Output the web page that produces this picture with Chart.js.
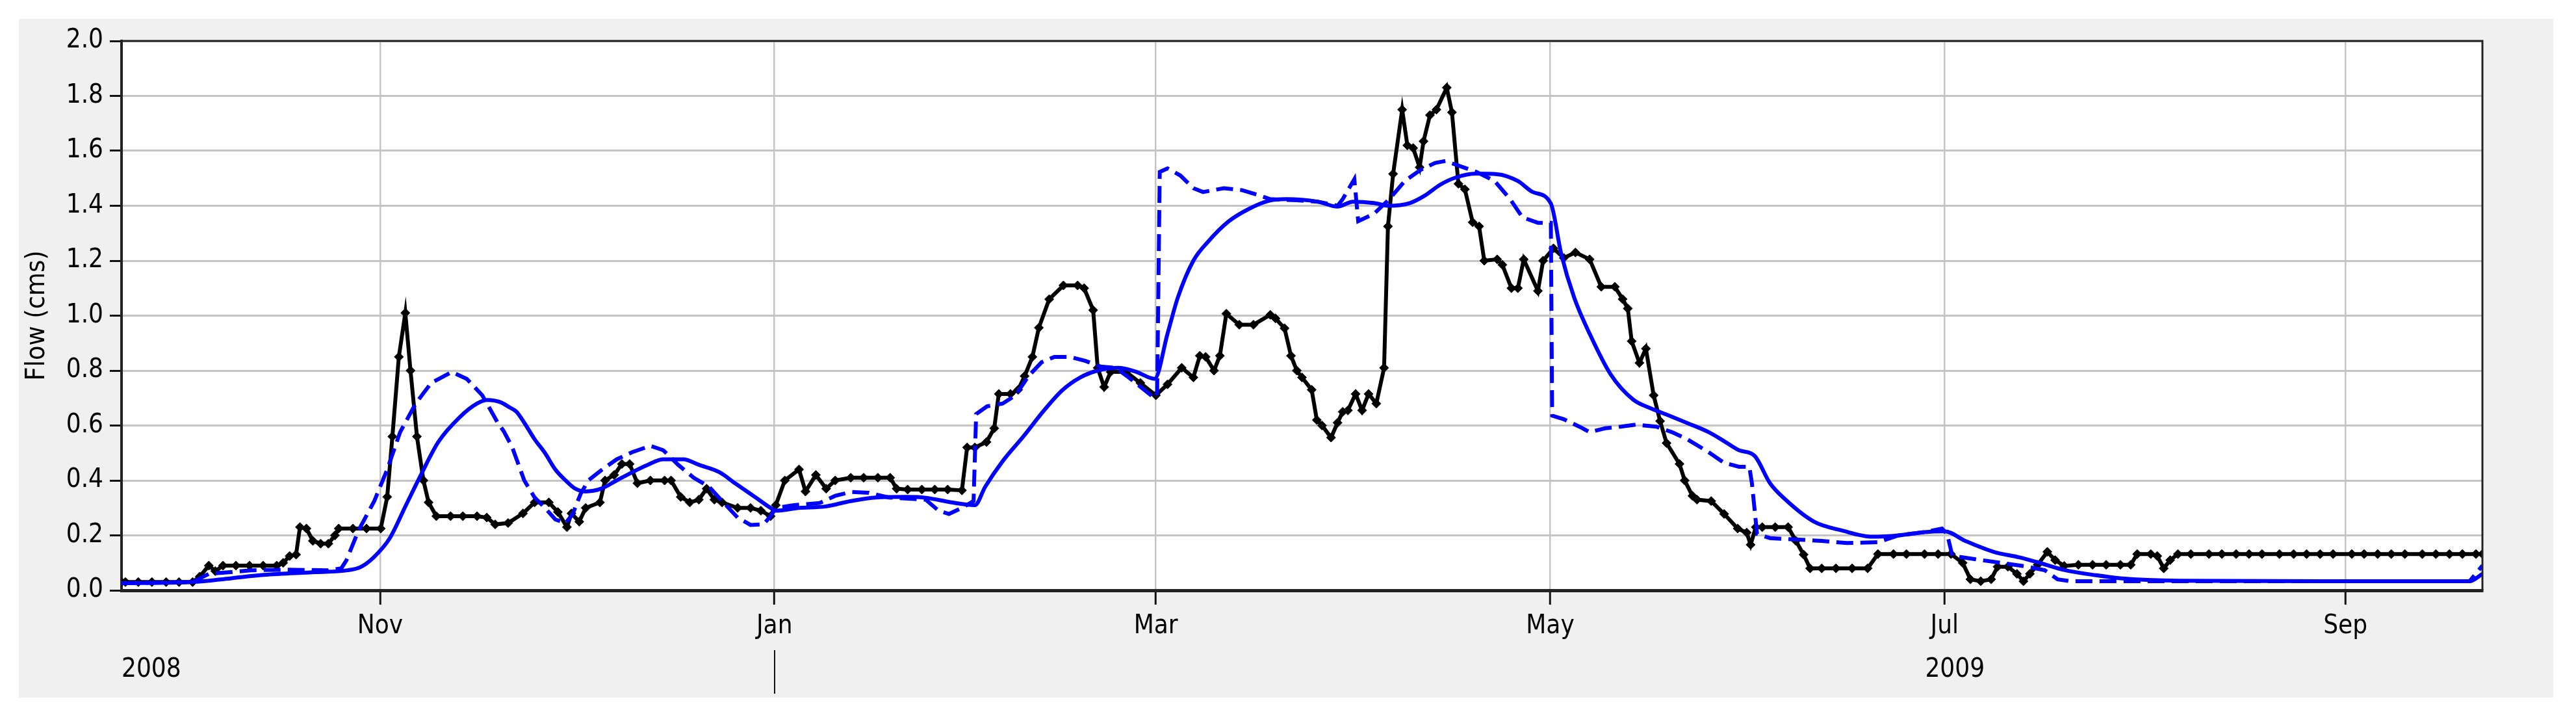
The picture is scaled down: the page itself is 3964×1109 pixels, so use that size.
<!DOCTYPE html>
<html lang="en">
  <head>
    <meta charset="UTF-8" />
    <title>Flow (cms)</title>
    <style>
      html,
      body {
        margin: 0;
        padding: 0;
        background: #fff;
      }
      #panel {
        position: absolute;
        left: 29px;
        top: 29px;
        width: 3900px;
        height: 1044px;
        background: #f0f0f0;
      }
      canvas {
        display: block;
      }
    </style>
  </head>
  <body>
    <div id="panel"><canvas id="flowChart" width="3900" height="1044"></canvas></div>

    <script src="https://cdn.jsdelivr.net/npm/chart.js"></script>
    <script>
      // x values are days after 2008-09-22 (left edge of the time axis)
      const obsDays = [
        0, 0.6, 2.6, 4.7, 6.9, 8.9, 11, 12.1, 13.5, 14.5, 15.7, 17.7, 19.8, 21.9, 24, 25, 26, 27, 27.6, 28.6, 29.6,
        30.8, 32, 33, 33.6, 35.8, 37.9, 40.1, 41.1, 41.9, 42.9, 43.9, 44.7, 45.7, 46.7, 47.5, 48.7, 50.9, 52.8, 55,
        56.5, 57.8, 59.8, 62.1, 63.9, 66.1, 67.5, 68.9, 69.6, 70.8, 71.8, 74, 74.8, 76.2, 77.4, 78.6, 79.8, 81.8, 84,
        85, 86.5, 87.9, 89.3, 90.5, 91.7, 92.9, 95.3, 97.3, 98.9, 100.4, 101.2, 102.6, 104.8, 105.8, 107.4, 109,
        110.4, 112.8, 114.8, 117, 118.9, 119.9, 121.6, 123.8, 125.8, 127.8, 130, 130.8, 132, 133.8, 135, 135.7,
        137.5, 138.7, 139.7, 140.9, 141.9, 143.5, 145.7, 147.9, 148.9, 150.3, 151, 152, 153, 155.4, 157.6, 160,
        161.8, 164, 165.8, 166.8, 167.7, 169, 169.9, 170.9, 172.9, 175.1, 177.7, 178.5, 179.9, 180.9, 181.8, 182.6,
        184.1, 184.9, 185.7, 187.1, 188.1, 188.9, 189.7, 190.9, 191.9, 192.9, 194.1, 195.3, 195.9, 196.7, 198.1,
        198.9, 199.8, 200.8, 201.4, 202.4, 203.4, 205, 205.8, 206.8, 207.8, 209, 210, 210.8, 212.8, 213.6, 215, 216,
        216.9, 219.1, 219.9, 221.5, 223.1, 224.9, 227.1, 228.9, 231, 232.2, 233, 233.6, 234.8, 235.8, 237, 238, 239,
        241, 241.8, 243, 243.7, 245.9, 247.9, 250, 251.4, 252, 252.8, 253.8, 255.8, 257.8, 259, 260.2, 261.2, 263,
        265.2, 267.7, 270.1, 271.7, 274.1, 276.1, 278.9, 281, 283, 284.8, 286, 287.6, 289.2, 290.2, 291.8, 293.2,
        294.2, 295.2, 296.4, 297.9, 299.1, 300.5, 302.7, 304.9, 307, 309.2, 310.8, 311.8, 313.9, 314.9, 315.9,
        316.9, 318.1, 320.1, 322.9, 324.9, 327.1, 329.1, 331.1, 333.8, 336, 338, 340.1, 342.1, 345, 346.9, 349,
        351.1, 353.2, 355.9, 358, 360.1, 362.1, 364.2, 365.2,
      ];
      const obsFlow = [
        0.03, 0.03, 0.03, 0.03, 0.03, 0.03, 0.03, 0.05, 0.09, 0.07, 0.09, 0.09, 0.09, 0.09, 0.09, 0.1, 0.125, 0.13,
        0.23, 0.225, 0.18, 0.17, 0.17, 0.2, 0.225, 0.225, 0.225, 0.225, 0.34, 0.56, 0.85, 1.01, 0.8, 0.56, 0.4, 0.32,
        0.27, 0.27, 0.27, 0.27, 0.265, 0.24, 0.245, 0.28, 0.32, 0.32, 0.285, 0.23, 0.28, 0.25, 0.3, 0.32, 0.4, 0.42,
        0.46, 0.46, 0.39, 0.4, 0.4, 0.4, 0.34, 0.32, 0.33, 0.37, 0.33, 0.32, 0.3, 0.3, 0.29, 0.27, 0.31, 0.4, 0.44,
        0.36, 0.42, 0.37, 0.4, 0.41, 0.41, 0.41, 0.41, 0.37, 0.367, 0.367, 0.367, 0.367, 0.364, 0.52, 0.52, 0.54,
        0.59, 0.715, 0.715, 0.73, 0.78, 0.85, 0.956, 1.06, 1.11, 1.11, 1.1, 1.02, 0.81, 0.74, 0.795, 0.795, 0.755,
        0.71, 0.75, 0.81, 0.775, 0.854, 0.85, 0.8, 0.854, 1.007, 0.967, 0.967, 1.003, 0.99, 0.954, 0.854, 0.8, 0.775,
        0.73, 0.62, 0.6, 0.556, 0.61, 0.65, 0.655, 0.715, 0.655, 0.715, 0.68, 0.81, 1.325, 1.516, 1.75, 1.62, 1.61,
        1.54, 1.635, 1.73, 1.75, 1.83, 1.74, 1.48, 1.46, 1.34, 1.325, 1.2, 1.205, 1.185, 1.1, 1.1, 1.205, 1.09, 1.2,
        1.245, 1.21, 1.23, 1.205, 1.105, 1.105, 1.06, 1.026, 0.907, 0.828, 0.88, 0.71, 0.616, 0.536, 0.46, 0.4, 0.344,
        0.33, 0.325, 0.278, 0.225, 0.21, 0.166, 0.23, 0.23, 0.23, 0.23, 0.18, 0.13, 0.08, 0.08, 0.08, 0.08, 0.08,
        0.132, 0.132, 0.132, 0.132, 0.132, 0.132, 0.1, 0.04, 0.033, 0.04, 0.086, 0.086, 0.06, 0.033, 0.06, 0.093,
        0.14, 0.11, 0.089, 0.093, 0.093, 0.093, 0.093, 0.093, 0.132, 0.132, 0.125, 0.08, 0.11, 0.132, 0.132, 0.132,
        0.132, 0.132, 0.132, 0.132, 0.132, 0.132, 0.132, 0.132, 0.132, 0.132, 0.132, 0.132, 0.132, 0.132, 0.132,
        0.132, 0.132, 0.132, 0.132, 0.132, 0.132, 0.132,
      ];

      const solidDays = [
        0, 11, 17, 22, 30, 35, 37, 39, 41.5, 44, 46.3, 49, 52.3, 55, 56.6, 58.6, 60.1, 61.1, 62.3, 63.9, 65.5, 67.1,
        68.7, 70.2, 71.8, 74.2, 76.6, 79, 81.4, 83.8, 86.9, 89.3, 92.5, 94.9, 98.1, 100.4, 101.2, 104.8, 108.8,
        112.8, 116.7, 121.4, 124.4, 128.4, 132, 133.6, 136.3, 139.5, 142.7, 145.5, 148.3, 151, 154.2, 157, 159.8,
        161.8, 163.4, 165.8, 168.1, 171.3, 174.5, 177.3, 180.1, 185, 188.1, 190.5, 193.7, 196.1, 199.3, 201.6, 204,
        206.4, 209.6, 212.8, 216, 218.3, 221.1, 222.7, 224.7, 227.1, 230.3, 233.8, 236.6, 239.4, 242.2, 245.5,
        247.9, 250.2, 252.6, 255, 257.4, 261.8, 266.1, 270.9, 274.9, 278.9, 282, 285.2, 289.6, 293.6, 296.7, 300.7,
        305.4, 309.2, 318.3, 340, 363.2, 365.2,
      ];
      const solidFlow = [
        0.026, 0.03, 0.044, 0.056, 0.066, 0.073, 0.085, 0.12, 0.19, 0.31, 0.42, 0.54, 0.63, 0.68, 0.693, 0.685,
        0.665, 0.65, 0.61, 0.55, 0.5, 0.44, 0.4, 0.37, 0.36, 0.37, 0.4, 0.43, 0.457, 0.477, 0.477, 0.457, 0.43, 0.39,
        0.338, 0.3, 0.29, 0.3, 0.305, 0.325, 0.338, 0.34, 0.337, 0.32, 0.31, 0.377, 0.47, 0.56, 0.655, 0.728, 0.775,
        0.8, 0.81, 0.795, 0.77, 0.934, 1.066, 1.2, 1.27, 1.344, 1.39, 1.417, 1.424, 1.415, 1.397, 1.415, 1.41, 1.4,
        1.41, 1.437, 1.477, 1.503, 1.517, 1.515, 1.49, 1.45, 1.408, 1.225, 1.066, 0.934, 0.788, 0.695, 0.662, 0.636,
        0.609, 0.576, 0.543, 0.51, 0.49, 0.39, 0.33, 0.25, 0.218, 0.195, 0.2, 0.212, 0.215, 0.18, 0.14, 0.12, 0.1,
        0.073, 0.055, 0.044, 0.035, 0.033, 0.033, 0.06,
      ];

      const dashDays = [
        0, 11, 13.5, 16.9, 20, 25.6, 32, 34, 34.8, 36.7, 39.1, 41.1, 43.1, 45.5, 47.9, 51.1, 53.4, 55.8, 58.2, 59.1,
        60.4, 62.3, 63.9, 65.5, 67.1, 68.7, 69.8, 71, 72.2, 74.2, 76.6, 79, 81.8, 83.8, 86.1, 88.5, 90.9, 92.9, 95.3,
        97.3, 99.3, 100.4, 101.2, 104, 108, 110.4, 112.8, 115.6, 118.7, 124.4, 126.4, 128, 130, 131.8, 132.2, 133.9,
        136.3, 138.3, 140.3, 142.3, 144.3, 146.7, 149.1, 151.4, 153.8, 155.8, 158.2, 159.8, 160.2, 160.6, 161.8,
        163.8, 165.8, 167.3, 170.5, 173.3, 176.1, 177.7, 181.8, 185, 188.1, 188.9, 190.7, 191.3, 193.7, 196.1, 198.5,
        200.9, 203.2, 204.8, 207.2, 209.6, 212.4, 214.8, 216.7, 219.1, 221.1, 221.3, 223.1, 225.5, 227.1, 229.5,
        231.9, 234.2, 237.4, 239.8, 242.2, 245.5, 247.9, 250.2, 251.8, 252.2, 253, 255, 259, 263, 266.9, 271.7,
        274.9, 278.9, 281.6, 282.4, 283.2, 286.8, 290.8, 294.8, 297.5, 299.5, 301.5, 363.2, 365.2,
      ];
      const dashFlow = [
        0.026, 0.03, 0.06, 0.066, 0.073, 0.075, 0.073, 0.08, 0.11, 0.22, 0.325, 0.44, 0.576, 0.68, 0.755, 0.795,
        0.77, 0.71, 0.61, 0.58, 0.523, 0.4, 0.338, 0.3, 0.258, 0.245, 0.278, 0.35, 0.4, 0.437, 0.477, 0.503, 0.526,
        0.51, 0.457, 0.41, 0.377, 0.325, 0.265, 0.238, 0.24, 0.27, 0.3, 0.31, 0.318, 0.344, 0.358, 0.355, 0.338,
        0.33, 0.29, 0.278, 0.3, 0.325, 0.642, 0.67, 0.68, 0.71, 0.78, 0.83, 0.85, 0.85, 0.835, 0.815, 0.81, 0.775,
        0.73, 0.7, 0.72, 1.523, 1.536, 1.51, 1.464, 1.45, 1.464, 1.457, 1.437, 1.424, 1.42, 1.415, 1.4, 1.424, 1.497,
        1.344, 1.37, 1.424, 1.49, 1.53, 1.556, 1.563, 1.543, 1.523, 1.49, 1.424, 1.358, 1.338, 1.338, 0.636, 0.623,
        0.596, 0.576, 0.59, 0.596, 0.603, 0.596, 0.576, 0.55, 0.503, 0.464, 0.45, 0.45, 0.39, 0.205, 0.19, 0.185,
        0.18, 0.172, 0.175, 0.2, 0.212, 0.225, 0.205, 0.126, 0.113, 0.1, 0.086, 0.073, 0.04, 0.033, 0.033, 0.09,
      ];

      const monthTickDays = [40, 101, 160, 221, 282, 344];
      const monthLabels = ["Nov", "Jan", "Mar", "May", "Jul", "Sep"];
      const yearLabels = ["2008", "2009"];
      const yearLabelDays = [0, 283.6];
      const yearBreakDay = 101;

      // use a narrow face when one is installed, otherwise plain Liberation Sans
      function pickFont(names) {
        const c = document.createElement("canvas").getContext("2d");
        const probe = "0.0 Nov 2008 Flow (cms) Wmli";
        for (const name of names) {
          for (const base of ["monospace", "serif"]) {
            c.font = "40px " + base;
            const w0 = c.measureText(probe).width;
            c.font = '40px "' + name + '", ' + base;
            if (c.measureText(probe).width !== w0) return name;
          }
        }
        return null;
      }
      const narrow = pickFont(["Liberation Sans Narrow", "Arial Narrow", "DejaVu Sans Condensed"]);
      const FONT = narrow ? '"' + narrow + '", sans-serif' : '"Liberation Sans", Arial, sans-serif';
      const TICK_SIZE = narrow === "DejaVu Sans Condensed" ? 40 : narrow ? 47 : 43;
      const TITLE_SIZE = TICK_SIZE + 1;

      function toPoints(xs, ys) {
        return xs.map((x, i) => ({ x: x, y: ys[i] }));
      }

      const framePlugin = {
        id: "frame",
        beforeDraw(chart) {
          const { ctx, chartArea: a } = chart;
          ctx.save();
          ctx.fillStyle = "#ffffff";
          ctx.fillRect(a.left, a.top, a.right - a.left, a.bottom - a.top);
          ctx.restore();
        },
        afterDraw(chart) {
          const { ctx, chartArea: a } = chart;
          const xs = chart.scales.x;
          ctx.save();
          // top and right edges of the plot box
          ctx.strokeStyle = "#222";
          ctx.lineWidth = 3;
          ctx.beginPath();
          ctx.moveTo(a.left, a.top);
          ctx.lineTo(a.right, a.top);
          ctx.lineTo(a.right, a.bottom);
          ctx.stroke();

          // year row under the month labels
          ctx.fillStyle = "#000";
          ctx.font = TICK_SIZE + "px " + FONT;
          ctx.textBaseline = "middle";
          yearLabels.forEach((t, i) => {
            const px = xs.getPixelForValue(yearLabelDays[i]);
            ctx.textAlign = i === 0 ? "left" : "center";
            ctx.fillText(t, px, 1002);
          });
          const bx = Math.round(xs.getPixelForValue(yearBreakDay));
          ctx.strokeStyle = "#111";
          ctx.lineWidth = 2;
          ctx.beginPath();
          ctx.moveTo(bx, 971);
          ctx.lineTo(bx, 1038);
          ctx.stroke();
          ctx.restore();
        },
      };

      new Chart(document.getElementById("flowChart"), {
        type: "line",
        data: {
          datasets: [
            {
              label: "Simulated",
              data: toPoints(solidDays, solidFlow),
              borderColor: "#0000ff",
              borderWidth: 6,
              pointRadius: 0,
              cubicInterpolationMode: "monotone",
            },
            {
              label: "Simulated (alt)",
              data: toPoints(dashDays, dashFlow),
              borderColor: "#0000ff",
              borderWidth: 6,
              borderDash: [26, 11],
              pointRadius: 0,
            },
            {
              label: "Observed",
              data: toPoints(obsDays, obsFlow),
              borderColor: "#000000",
              borderWidth: 6,
              pointStyle: "rectRot",
              pointRadius: 7,
              pointBackgroundColor: "#000000",
              pointBorderColor: "#000000",
              pointBorderWidth: 1,
            },
          ],
        },
        options: {
          responsive: false,
          animation: false,
          events: [],
          layout: { padding: { left: 0, top: 30, right: 109, bottom: 0 } },
          plugins: {
            legend: { display: false },
            tooltip: { enabled: false },
          },
          scales: {
            x: {
              type: "linear",
              min: 0,
              max: 365.2,
              afterBuildTicks: (s) => {
                s.ticks = monthTickDays.map((v) => ({ value: v }));
              },
              afterFit: (s) => {
                s.height = 165;
              },
              ticks: {
                autoSkip: false,
                maxRotation: 0,
                padding: 10,
                color: "#000",
                font: { family: FONT, size: TICK_SIZE },
                callback: (v) => monthLabels[monthTickDays.indexOf(v)] || "",
              },
              grid: {
                color: "#c4c4c4",
                lineWidth: 2.5,
                tickLength: 22,
                tickColor: "#111",
                tickWidth: 3,
              },
              border: { color: "#222", width: 5 },
            },
            y: {
              min: 0,
              max: 2,
              afterFit: (s) => {
                s.width = 158;
              },
              ticks: {
                stepSize: 0.2,
                padding: 10,
                color: "#000",
                font: { family: FONT, size: TICK_SIZE },
                callback: (v) => v.toFixed(1),
              },
              grid: {
                color: "#c4c4c4",
                lineWidth: 3,
                tickLength: 18,
                tickColor: "#111",
                tickWidth: 3,
              },
              border: { color: "#222", width: 4 },
              title: {
                display: true,
                text: "Flow (cms)",
                color: "#000",
                font: { family: FONT, size: TITLE_SIZE },
                padding: { top: 4, bottom: 0 },
              },
            },
          },
        },
        plugins: [framePlugin],
      });
    </script>
  </body>
</html>
